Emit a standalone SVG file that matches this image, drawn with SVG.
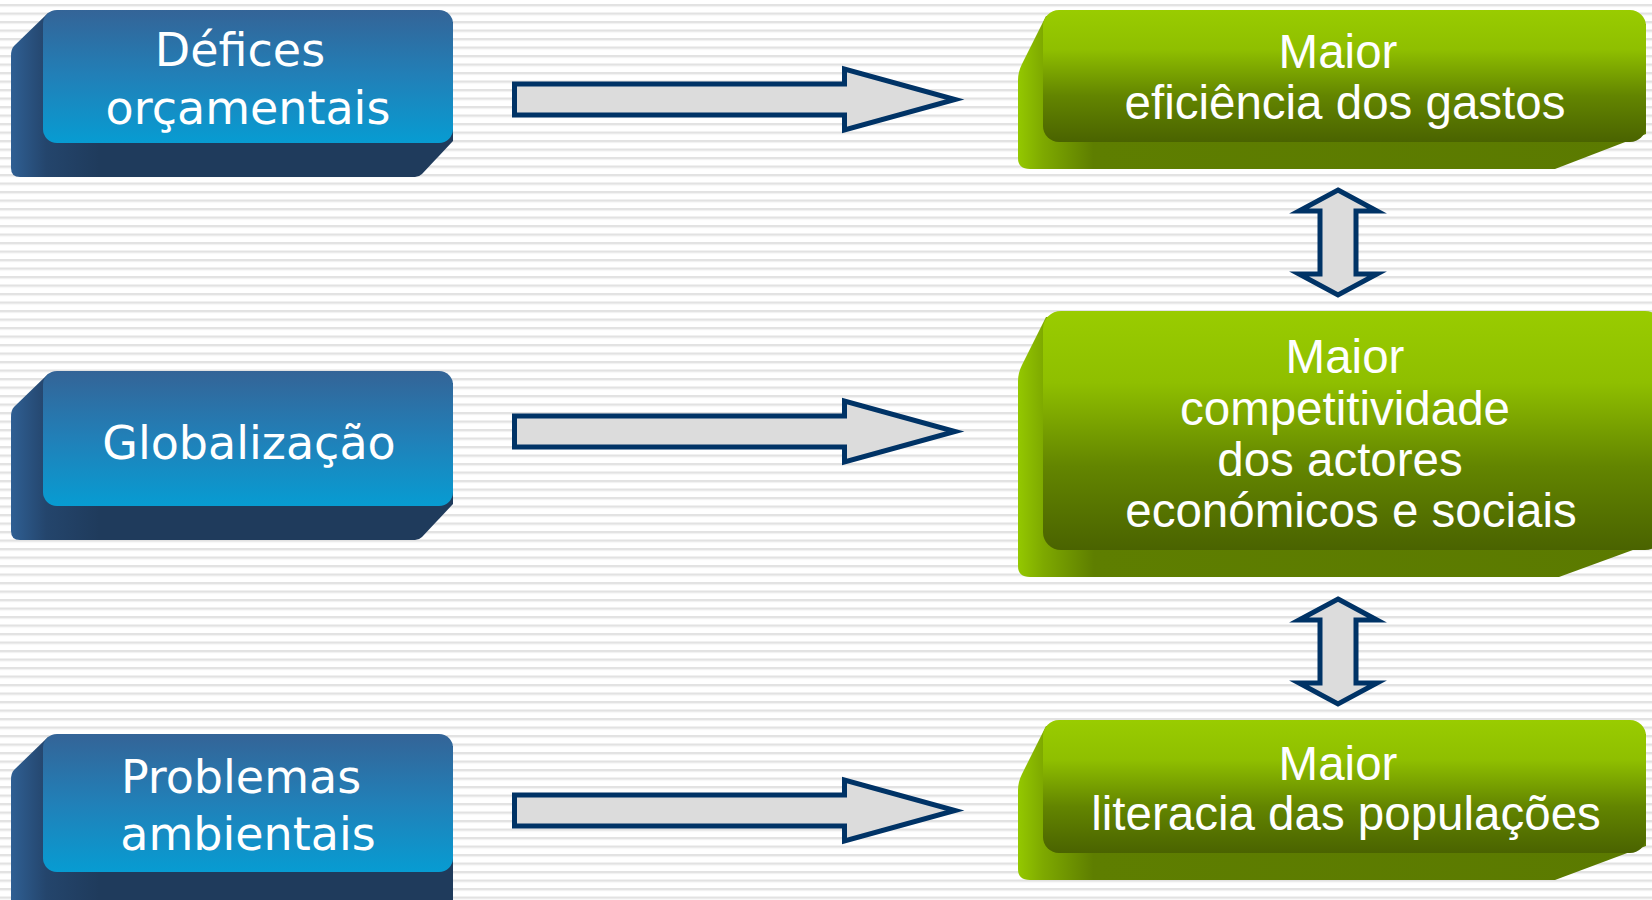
<svg xmlns="http://www.w3.org/2000/svg" width="1652" height="900" viewBox="0 0 1652 900">
<defs>
<pattern id="stripes" x="0" y="4" width="40" height="8.5" patternUnits="userSpaceOnUse">
<rect x="0" y="0" width="40" height="8.5" fill="#ffffff"/>
<rect x="0" y="0" width="40" height="2" fill="#e2e2e2"/>
<rect x="0" y="2" width="40" height="1" fill="#efefef"/>
</pattern>
<linearGradient id="blueFront" x1="0" y1="0" x2="0" y2="1">
<stop offset="0" stop-color="#346497"/>
<stop offset="0.5" stop-color="#2180b8"/>
<stop offset="1" stop-color="#079cd2"/>
</linearGradient>
<linearGradient id="blueBack" x1="0" y1="0" x2="1" y2="0">
<stop offset="0" stop-color="#2f5f93"/>
<stop offset="0.08" stop-color="#24456c"/>
<stop offset="0.2" stop-color="#1f3b5c"/>
<stop offset="1" stop-color="#1f3b5c"/>
</linearGradient>
<linearGradient id="greenFront" x1="0" y1="0" x2="0" y2="1">
<stop offset="0" stop-color="#99cc00"/>
<stop offset="0.3" stop-color="#8fbf00"/>
<stop offset="0.65" stop-color="#638500"/>
<stop offset="1" stop-color="#4a6300"/>
</linearGradient>
<linearGradient id="greenBack" x1="0" y1="0" x2="1" y2="0">
<stop offset="0" stop-color="#94c800"/>
<stop offset="0.04" stop-color="#7ea900"/>
<stop offset="0.12" stop-color="#5e7e00"/>
<stop offset="1" stop-color="#5b7a00"/>
</linearGradient>
<path id="hArrow" d="M514.5,84 H844.5 V69 L955,99.5 L844.5,130 V115 H514.5 Z"/>
<path id="vArrow" d="M1338,190 L1377,211 H1356 V274 H1377 L1338,295 L1299,274 H1320 V211 H1299 Z"/>
</defs>
<style>
.bt{font-family:"DejaVu Sans","Verdana",sans-serif;font-size:46px;fill:#ffffff;text-anchor:middle}
.gt{font-family:"Liberation Sans","Arial",sans-serif;font-size:47.5px;fill:#ffffff;text-anchor:middle}
.arr{fill:#dcdcdc;stroke:#003366;stroke-width:5;stroke-linejoin:miter;stroke-miterlimit:10}
.bf{fill:url(#blueFront)}
.bb{fill:url(#blueBack)}
.gf{fill:url(#greenFront)}
.gb{fill:url(#greenBack)}
</style>
<rect x="0" y="0" width="1652" height="900" fill="url(#stripes)"/>

<g id="node-defices">
<path class="bb" d="M48,13 L14,46 Q11,49 11,56 L11,168 Q11,177 20,177 L415,177 Q419,177 422,174 L453,141 L453,22 Z"/>
<rect class="bf" x="43" y="10" width="410" height="133" rx="14"/>
<text class="bt" x="240" y="66">Défices</text>
<text class="bt" x="248" y="124">orçamentais</text>
</g>

<g id="node-globalizacao">
<path class="bb" d="M48,374 L14,407 Q11,410 11,417 L11,531 Q11,540 20,540 L415,540 Q419,540 422,537 L453,504 L453,383 Z"/>
<rect class="bf" x="43" y="371" width="410" height="135" rx="14"/>
<text class="bt" x="249" y="459">Globalização</text>
</g>

<g id="node-problemas">
<path class="bb" d="M48,737 L14,770 Q11,773 11,780 L11,900 L453,900 L453,746 Z"/>
<rect class="bf" x="43" y="734" width="410" height="138" rx="14"/>
<text class="bt" x="241" y="793">Problemas</text>
<text class="bt" x="248" y="850">ambientais</text>
</g>

<g id="node-eficiencia">
<path class="gb" d="M1046,16 L1022,64 Q1018,72 1018,80 L1018,158 Q1018,169 1030,169 L1555,169 L1646,134 L1646,24 Z"/>
<rect class="gf" x="1043" y="10" width="603" height="132" rx="16"/>
<text class="gt" x="1338" y="68">Maior</text>
<text class="gt" x="1345" y="119">eficiência dos gastos</text>
</g>

<g id="node-competitividade">
<path class="gb" d="M1046,317 L1022,365 Q1018,373 1018,381 L1018,566 Q1018,577 1030,577 L1559,577 L1652,543 L1652,325 Z"/>
<rect class="gf" x="1043" y="311" width="620" height="239" rx="18"/>
<text class="gt" x="1345" y="373">Maior</text>
<text class="gt" x="1345" y="425">competitividade</text>
<text class="gt" x="1340" y="476">dos actores</text>
<text class="gt" x="1351" y="527">económicos e sociais</text>
</g>

<g id="node-literacia">
<path class="gb" d="M1046,726 L1022,774 Q1018,782 1018,790 L1018,869 Q1018,880 1030,880 L1555,880 L1646,846 L1646,734 Z"/>
<rect class="gf" x="1043" y="720" width="603" height="133" rx="16"/>
<text class="gt" x="1338" y="780">Maior</text>
<text class="gt" x="1346" y="830">literacia das populações</text>
</g>

<g id="connectors">
<use href="#hArrow" class="arr"/>
<use href="#hArrow" class="arr" transform="translate(0,332)"/>
<use href="#hArrow" class="arr" transform="translate(0,711)"/>
<use href="#vArrow" class="arr"/>
<use href="#vArrow" class="arr" transform="translate(0,409)"/>
</g>
</svg>
